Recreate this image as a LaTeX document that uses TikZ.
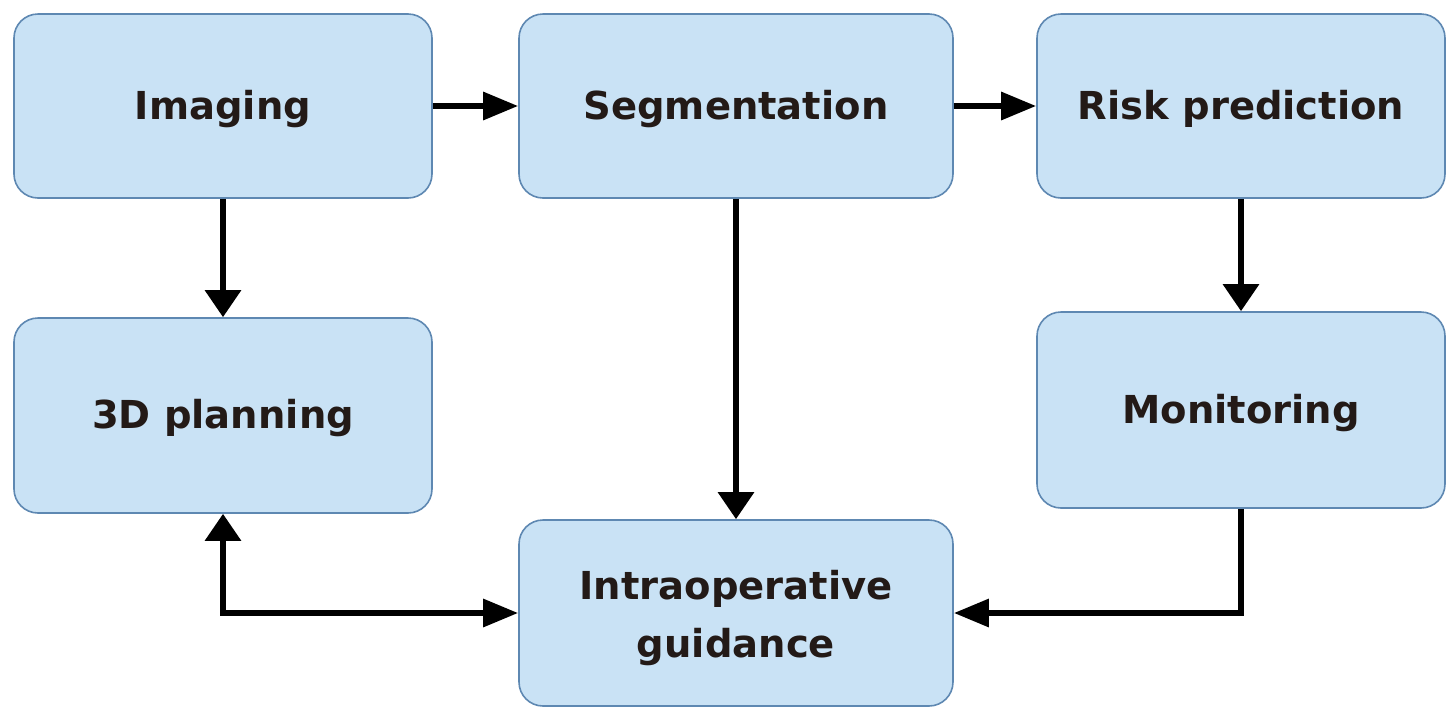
\documentclass[tikz,border=0pt]{standalone}
\usepackage{fontspec}
\setmainfont{DejaVu Sans}
\usetikzlibrary{arrows.meta}
\definecolor{boxfill}{HTML}{C9E2F5}
\definecolor{boxline}{HTML}{5E88B2}
\definecolor{txt}{HTML}{231A17}
\begin{document}
\begin{tikzpicture}[x=1pt,y=-1pt,
  box/.style={draw=boxline, line width=1.6pt, fill=boxfill, rounded corners=24pt, inner sep=0pt},
  lbl/.style={font=\fontsize{38.5}{58}\selectfont\bfseries, text=txt, align=center, inner sep=0pt},
  vconn/.style={line width=6pt, -{Triangle[length=27pt,width=35pt]}},
  hconn/.style={line width=6pt, -{Triangle[length=35pt,width=27pt]}},
  hvconn/.style={line width=6pt, {Triangle[length=27pt,width=35pt]}-{Triangle[length=35pt,width=27pt]}}]
\useasboundingbox (0,0) rectangle (1453,721);
\node[box, minimum width=418pt, minimum height=184pt] (img) at (223,106) {};
\node[box, minimum width=434pt, minimum height=184pt] (seg) at (736,106) {};
\node[box, minimum width=408pt, minimum height=184pt] (risk) at (1241,106) {};
\node[box, minimum width=418pt, minimum height=195pt] (plan) at (223,415.5) {};
\node[box, minimum width=408pt, minimum height=196pt] (mon) at (1241,410) {};
\node[box, minimum width=434pt, minimum height=186pt] (intra) at (736,613) {};
\node[lbl] (imgt) at ([yshift=-3pt]img.center) {Imaging};
\node[lbl] (segt) at ([yshift=-3pt]seg.center) {Segmentation};
\node[lbl] (riskt) at ([yshift=-3pt]risk.center) {Risk prediction};
\node[lbl] (plant) at ([yshift=-3pt]plan.center) {3D planning};
\node[lbl] (mont) at ([yshift=-3pt]mon.center) {Monitoring};
\node[lbl] (intrat) at ([yshift=-5pt]intra.center) {Intraoperative\\guidance};
\draw[hconn] (img) -- (seg);
\draw[hconn] (seg) -- (risk);
\draw[vconn] (img) -- (plan);
\draw[vconn] (seg) -- (intra);
\draw[vconn] (risk) -- (mon);
\draw[hconn] (mon.south) |- (intra.east);
\draw[hvconn] (plan.south) |- (intra.west);
\end{tikzpicture}
\end{document}
